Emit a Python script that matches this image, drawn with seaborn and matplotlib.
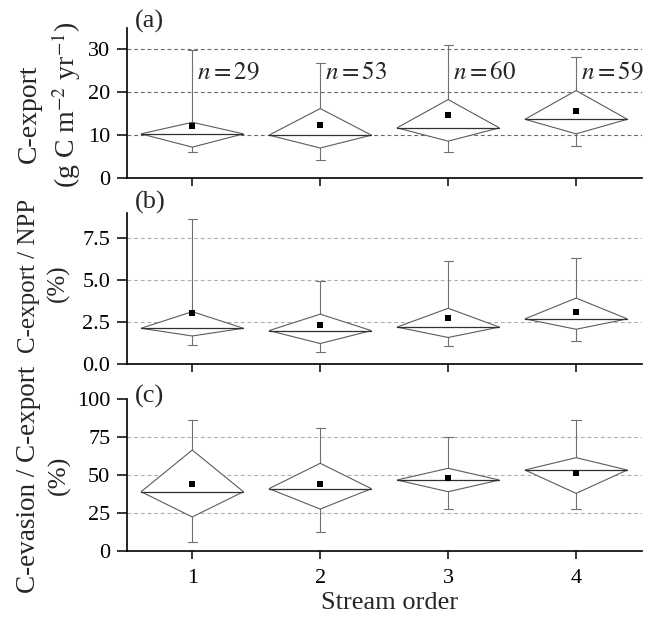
import numpy as np
import pandas as pd
import seaborn as sns
import matplotlib.pyplot as plt

# Stream order groups and sample sizes
orders = [1, 2, 3, 4]
n_obs = [29, 53, 60, 59]

# (a) C-export (g C m-2 yr-1): min, Q1, median, Q3, max, mean
exp_min = [6.0, 4.2, 6.1, 7.4]
exp_q1 = [7.2, 7.0, 8.6, 10.3]
exp_med = [10.3, 10.0, 11.7, 13.7]
exp_q3 = [13.0, 16.2, 18.3, 20.4]
exp_max = [29.8, 26.8, 31.0, 28.3]
exp_mean = [12.1, 12.3, 14.7, 15.6]

# (b) C-export / NPP (%)
npp_min = [1.16, 0.72, 1.08, 1.37]
npp_q1 = [1.67, 1.22, 1.58, 2.07]
npp_med = [2.13, 1.99, 2.20, 2.69]
npp_q3 = [3.12, 2.97, 3.32, 3.93]
npp_max = [8.63, 4.96, 6.14, 6.30]
npp_mean = [3.03, 2.31, 2.77, 3.09]

# (c) C-evasion / C-export (%)
eva_min = [5.7, 12.7, 27.4, 27.4]
eva_q1 = [22.4, 27.6, 39.0, 37.9]
eva_med = [39.0, 41.0, 46.7, 53.3]
eva_q3 = [66.4, 57.7, 54.4, 61.4]
eva_max = [86.0, 80.9, 74.8, 86.0]
eva_mean = [43.9, 44.3, 47.8, 51.1]

sns.set_theme(style="ticks")
plt.rcParams['font.family'] = ['Liberation Serif', 'DejaVu Serif']
plt.rcParams['mathtext.fontset'] = 'stix'

W, H = 656, 626
fig = plt.figure(figsize=(W / 100, H / 100), dpi=100)


def fx(px):
    return px / W


def fy(py):
    return 1 - py / H


def add_panel(top_px, bottom_px):
    left_px, right_px = 127, 642
    return fig.add_axes([fx(left_px), fy(bottom_px),
                         (right_px - left_px) / W, (bottom_px - top_px) / H])


def draw_panel(ax, mn, q1, med, q3, mx, mean, ylim, yticks, grid_color, fmt):
    hw = 0.4   # diamond half width
    cw = 0.036  # cap half width
    for x, lo, a, m, b, hi in zip(orders, mn, q1, med, q3, mx):
        ax.fill([x - hw, x, x + hw, x, x - hw], [m, b, m, a, m],
                facecolor='white', edgecolor='#5c5c5c', lw=0.8, zorder=3)
        ax.plot([x - hw, x + hw], [m, m], color='#303030', lw=0.9, zorder=4)
        ax.plot([x, x], [b, hi], color='#707070', lw=0.8, zorder=2)
        ax.plot([x, x], [a, lo], color='#707070', lw=0.8, zorder=2)
        ax.plot([x - cw, x + cw], [hi, hi], color='#707070', lw=0.8, zorder=2)
        ax.plot([x - cw, x + cw], [lo, lo], color='#707070', lw=0.8, zorder=2)
    df = pd.DataFrame({'order': orders, 'mean': mean})
    sns.scatterplot(data=df, x='order', y='mean', marker='s', color='black',
                    s=24, linewidth=0, ax=ax, zorder=5, legend=False)
    for t in yticks:
        if 0 < t < ylim[1]:
            ax.axhline(t, color=grid_color, lw=0.8, ls=(0, (3.5, 2.5)), zorder=1)
    ax.set_xlim(0.49, 4.515)
    ax.set_ylim(*ylim)
    ax.set_yticks(yticks)
    ax.set_yticklabels([fmt.format(t) for t in yticks])
    ax.set_xticks(orders)
    ax.set_xlabel('')
    ax.set_ylabel('')
    ax.tick_params(axis='both', direction='out', labelsize=16, width=1.1,
                   color='black', labelcolor='black', pad=5)
    ax.tick_params(axis='y', length=7)
    ax.tick_params(axis='x', length=6, pad=7)
    for s in ['left', 'bottom']:
        ax.spines[s].set_linewidth(1.2)
        ax.spines[s].set_color('black')
    sns.despine(ax=ax)


ax_a = add_panel(28, 178)
ax_b = add_panel(213, 364)
ax_c = add_panel(399, 551)

draw_panel(ax_a, exp_min, exp_q1, exp_med, exp_q3, exp_max, exp_mean,
           (0, 35), [0, 10, 20, 30], '#6a6a6a', '{:.0f}')
draw_panel(ax_b, npp_min, npp_q1, npp_med, npp_q3, npp_max, npp_mean,
           (0, 9), [0.0, 2.5, 5.0, 7.5], '#b0b0b0', '{:.1f}')
draw_panel(ax_c, eva_min, eva_q1, eva_med, eva_q3, eva_max, eva_mean,
           (0, 100), [0, 25, 50, 75, 100], '#b0b0b0', '{:.0f}')

ax_a.set_xticklabels([])
ax_b.set_xticklabels([])
ax_c.set_xticklabels([str(o) for o in orders])

# sample sizes
for x, n in zip(orders, n_obs):
    ax_a.text(x + 0.035, 24.4, f'$n = {n}$', fontsize=18, ha='left', va='center')

# panel letters
for lab, py in [('(a)', 21), ('(b)', 202), ('(c)', 396)]:
    fig.text(fx(135), fy(py), lab, fontsize=19, ha='left', va='center')

# axis labels
fig.text(fx(29), fy(114), 'C-export', rotation=90, fontsize=20,
         ha='center', va='center')
fig.text(fx(66), fy(105), r'(g C m$^{-2}$ yr$^{-1}$)', rotation=90, fontsize=20,
         ha='center', va='center')
fig.text(fx(29), fy(276), 'C-export / NPP', rotation=90, fontsize=18,
         ha='center', va='center')
fig.text(fx(58), fy(283), '(%)', rotation=90, fontsize=18, ha='center', va='center')
fig.text(fx(29), fy(479), 'C-evasion / C-export', rotation=90, fontsize=19.5,
         ha='center', va='center')
fig.text(fx(59), fy(475), '(%)', rotation=90, fontsize=19, ha='center', va='center')
fig.text(fx(390), fy(603), 'Stream order', fontsize=19, ha='center', va='center')

fig.savefig('out.png', dpi=100)
